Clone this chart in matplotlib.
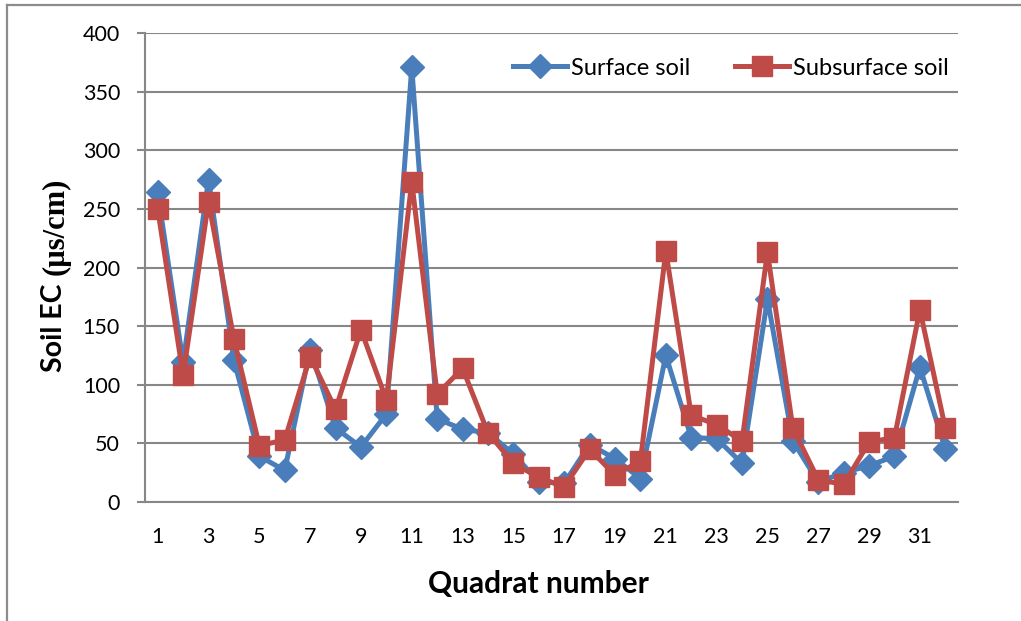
import matplotlib
matplotlib.use('Agg')
import matplotlib.pyplot as plt
from matplotlib.lines import Line2D

# quadrat EC readings (µs/cm)
quadrats = list(range(1, 33))
surface = [264, 119, 275, 121, 39, 27, 130, 63, 47, 75, 371, 71, 62, 59, 41, 17,
           16, 49, 37, 20, 125, 55, 54, 33, 173, 52, 17, 25, 31, 39, 115, 45]
subsurface = [250, 108, 256, 139, 48, 53, 124, 79, 147, 87, 273, 92, 114, 59, 33, 21,
              13, 45, 23, 35, 214, 74, 66, 52, 213, 63, 19, 15, 51, 55, 164, 63]
yticks = list(range(0, 401, 50))

W, H = 1021, 621
fig = plt.figure(figsize=(W / 100, H / 100), dpi=100)
fig.patch.set_facecolor('white')

# outer frame (left and top edges)
frame_c = '#8c8c8c'
fig.add_artist(Line2D([7 / W, 7 / W], [0, 1 - 5 / H], color=frame_c, lw=1.6, transform=fig.transFigure))
fig.add_artist(Line2D([7 / W, 1], [1 - 5 / H, 1 - 5 / H], color=frame_c, lw=1.6, transform=fig.transFigure))

ax = fig.add_axes([145 / W, (H - 502) / H, (958 - 145) / W, (502 - 33) / H])

blue = '#4A7EBB'
red = '#BE4B48'
grid_c = '#878787'

ax.plot(quadrats, surface, color=blue, lw=3.6, marker='D', ms=12,
        label='Surface soil', zorder=3)
ax.plot(quadrats, subsurface, color=red, lw=3.6, marker='s', ms=14,
        label='Subsurface soil', zorder=4)

ax.set_xlim(0.5, 32.5)
ax.set_ylim(0, 400)
ax.set_yticks(yticks)
ax.set_xticks(quadrats[::2])
ax.yaxis.grid(True, color=grid_c, lw=1.5)
ax.set_axisbelow(True)

for s in ['top', 'right']:
    ax.spines[s].set_visible(False)
for s in ['left', 'bottom']:
    ax.spines[s].set_color(grid_c)
    ax.spines[s].set_linewidth(1.5)

ax.tick_params(axis='y', length=6, width=1.5, color=grid_c, pad=12, labelsize=15.5)
ax.tick_params(axis='x', length=0, pad=18, labelsize=15.5)
for lab in ax.get_xticklabels() + ax.get_yticklabels():
    lab.set_fontfamily('Lato')

fig.text(538 / W, 1 - 584 / H, 'Quadrat number', family='Lato', weight='bold',
         size=21.5, ha='center', va='center')
# y label: sans part and serif unit part, stacked bottom-up
fig.text(54 / W, 1 - 372 / H, 'Soil EC', family='Lato', weight='bold', size=20.5,
         rotation=90, ha='center', va='bottom')
fig.text(56 / W, 1 - 275 / H, '(µs/cm)', family='Liberation Serif', weight='bold', size=22,
         rotation=90, ha='center', va='bottom')

leg = ax.legend(loc='center right', bbox_to_anchor=(1.0, 0.925), ncol=2, frameon=False,
                prop={'family': 'Lato', 'size': 17}, handlelength=2.3,
                handletextpad=0.15, columnspacing=1.9, borderaxespad=0)

fig.savefig('out.png', dpi=100)
